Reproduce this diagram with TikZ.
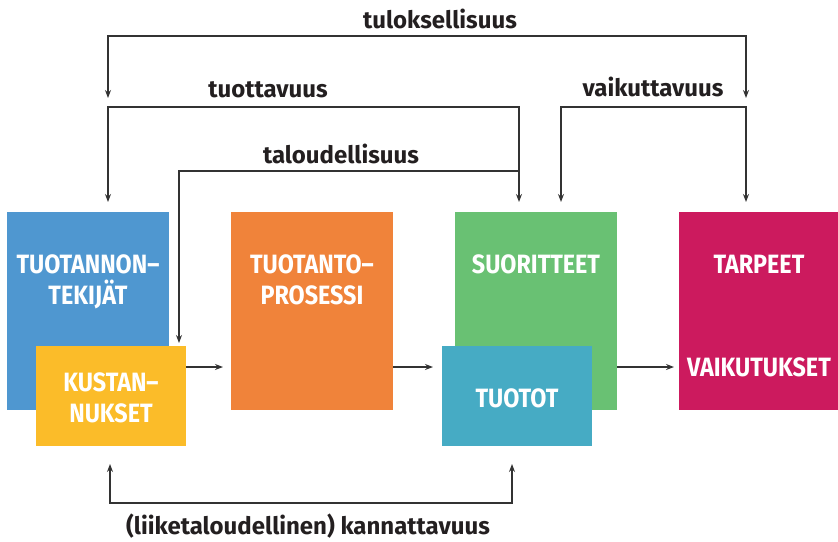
\documentclass[tikz,border=0pt]{standalone}
\usepackage{fontspec}
\setmainfont{Fira Sans}
\newfontfamily\boxfont[FakeStretch=0.88]{Fira Sans}
\usetikzlibrary{arrows.meta}
\definecolor{cblue}{HTML}{4F97D0}
\definecolor{cyellow}{HTML}{FBBC29}
\definecolor{corange}{HTML}{F0833A}
\definecolor{cgreen}{HTML}{69C173}
\definecolor{cteal}{HTML}{46ABC4}
\definecolor{cmag}{HTML}{CC1A5E}
\definecolor{ctext}{HTML}{231F20}
\definecolor{cline}{HTML}{333333}
\tikzset{
  blk/.style={draw=none, inner sep=0pt, anchor=north west},
  boxtxt/.style={text=white, font=\boxfont\bfseries\fontsize{26.5}{31}\selectfont, anchor=base, inner sep=0pt},
  lab/.style={text=ctext, font=\bfseries\fontsize{24}{28}\selectfont, anchor=base, inner sep=0pt},
  conn/.style={draw=cline, line width=1.2pt},
  arr/.style={conn, -{Stealth[length=8pt,width=6pt]}},
  arr2/.style={conn, {Stealth[length=8pt,width=6pt]}-{Stealth[length=8pt,width=6pt]}},
}
\begin{document}
\begin{tikzpicture}[x=1pt,y=-1pt]
\useasboundingbox (0,0) rectangle (838,541);
% boxes
\node[blk, fill=cblue, minimum width=162pt, minimum height=198pt] (blue) at (7,212) {};
\node[blk, fill=cyellow, minimum width=150pt, minimum height=100pt] (yellow) at (36,346) {};
\node[blk, fill=corange, minimum width=162pt, minimum height=198pt] (orange) at (231,212) {};
\node[blk, fill=cgreen, minimum width=162pt, minimum height=198pt] (green) at (455,212) {};
\node[blk, fill=cteal, minimum width=150pt, minimum height=100pt] (teal) at (442,346) {};
\node[blk, fill=cmag, minimum width=162pt, minimum height=198pt] (mag) at (679,212) {};
% box texts
\node[boxtxt] (t1a) at (88,273) {TUOTANNON–};
\node[boxtxt] (t1b) at (88,304) {TEKIJÄT};
\node[boxtxt] (t2a) at (111,391) {KUSTAN–};
\node[boxtxt] (t2b) at (111,422) {NUKSET};
\node[boxtxt] (t3a) at (312,273) {TUOTANTO–};
\node[boxtxt] (t3b) at (312,304) {PROSESSI};
\node[boxtxt] (t4) at (536,273) {SUORITTEET};
\node[boxtxt] (t5) at (517,407) {TUOTOT};
\node[boxtxt] (t6a) at (759,273) {TARPEET};
\node[boxtxt] (t6b) at (759,376) {VAIKUTUKSET};
% labels
\node[lab] (l1) at (440,28) {tuloksellisuus};
\node[lab] (l2) at (268,97) {tuottavuus};
\node[lab] (l3) at (341,163) {taloudellisuus};
\node[lab] (l4) at (653,96) {vaikuttavuus};
\node[lab] (l5) at (308,534) {(liiketaloudellinen) kannattavuus};
% connector end points
\coordinate (tulL) at (108,98);
\coordinate (tulR) at (746,98);
\coordinate (blueIn) at (108,202);
\coordinate (greenIn) at (519,202);
\coordinate (greenIn2) at (561,202);
\coordinate (magIn) at (746,202);
\coordinate (yelIn) at (179,343);
\coordinate (yelBot) at (110,464);
\coordinate (tealBot) at (512,464);
% connectors
\draw[arr2] (tulL) -- (108,36) -- (746,36) -- (tulR);
\draw[arr2] (blueIn) -- (108,107) -- (519,107) -- (greenIn);
\draw[arr] (519,171) -- (179,171) -- (yelIn);
\draw[arr2] (greenIn2) -- (561,107) -- (746,107) -- (magIn);
\draw[arr2] (yelBot) -- (110,503) -- (512,503) -- (tealBot);
\draw[arr] (yellow.east |- 0,367) -- (223,367);
\draw[arr] (orange.east |- 0,367) -- (433,367);
\draw[arr] (green.east |- 0,367) -- (674,367);
\end{tikzpicture}
\end{document}
